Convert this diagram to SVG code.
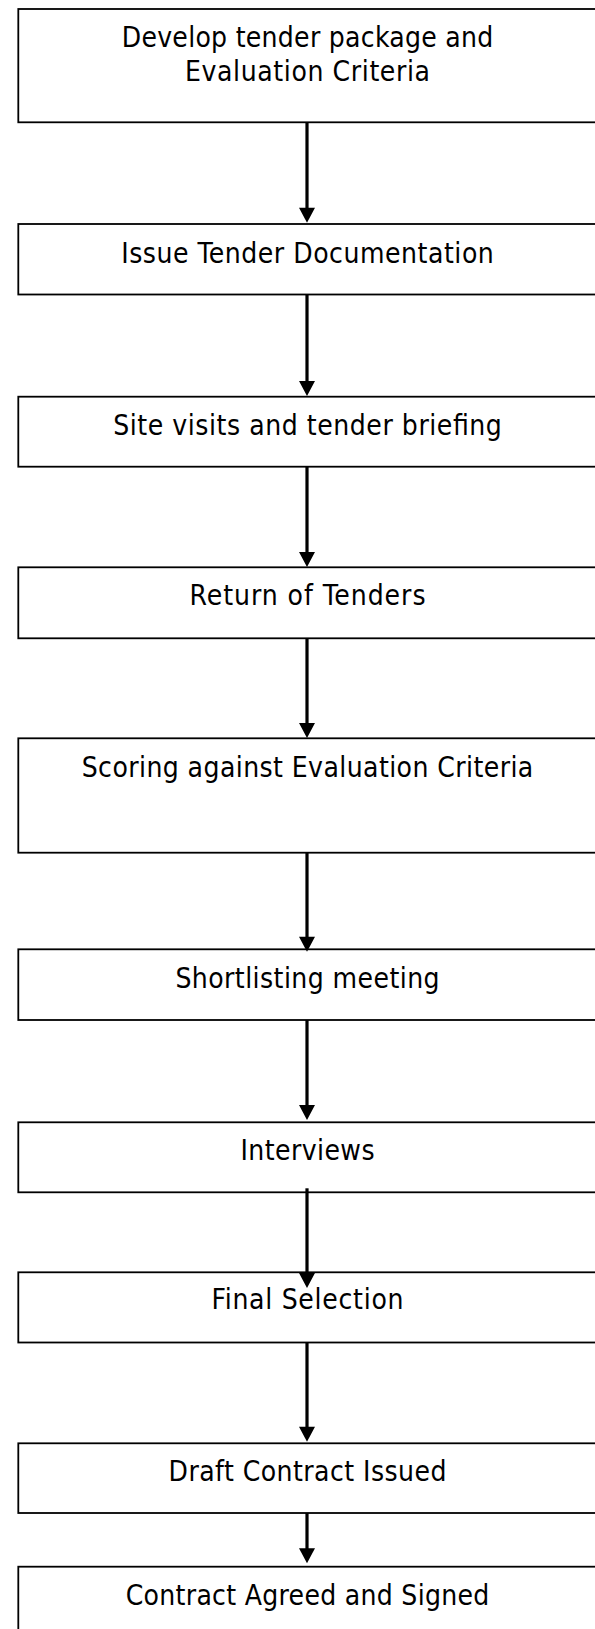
<svg xmlns="http://www.w3.org/2000/svg" width="595" height="1629" viewBox="0 0 595 1629">
<style>
.box{fill:#fff;stroke:#000;stroke-width:1.8}
.lbl{font-family:"DejaVu Sans Condensed","DejaVu Sans",sans-serif;font-stretch:condensed;font-size:28px;fill:#000;text-anchor:middle}
.conn{stroke:#000;stroke-width:3.2;fill:none;marker-end:url(#ah)}
</style>
<defs>
<marker id="ah" markerUnits="userSpaceOnUse" markerWidth="16" markerHeight="16" viewBox="0 0 15 16" refX="7" refY="8" orient="auto">
<path d="M0,0 L15,8 L0,16 z" fill="#000"/>
</marker>
</defs>
<rect width="595" height="1629" fill="#fff"/>
<g id="n1"><rect class="box" x="18.3" y="9" width="580" height="113.3"/>
<text class="lbl" x="307.5" y="46.7" textLength="371.6">Develop tender package and</text>
<text class="lbl" x="307.5" y="80.7" textLength="245">Evaluation Criteria</text></g>
<g id="n2"><rect class="box" x="18.3" y="224" width="580" height="70.5"/>
<text class="lbl" x="307.5" y="263.3" textLength="372.6">Issue Tender Documentation</text></g>
<g id="n3"><rect class="box" x="18.3" y="396.7" width="580" height="70"/>
<text class="lbl" x="307.5" y="435" textLength="388.7">Site visits and tender briefing</text></g>
<g id="n4"><rect class="box" x="18.3" y="567.3" width="580" height="71"/>
<text class="lbl" x="307.5" y="605" textLength="236">Return of Tenders</text></g>
<g id="n5"><rect class="box" x="18.3" y="738.3" width="580" height="114.4"/>
<text class="lbl" x="307.5" y="776.7" textLength="451.6">Scoring against Evaluation Criteria</text></g>
<g id="n6"><rect class="box" x="18.3" y="949.3" width="580" height="70.7"/>
<text class="lbl" x="307.5" y="988.3" textLength="264.2">Shortlisting meeting</text></g>
<g id="n7"><rect class="box" x="18.3" y="1122.3" width="580" height="70"/>
<text class="lbl" x="307.5" y="1160" textLength="134">Interviews</text></g>
<g id="n8"><rect class="box" x="18.3" y="1272.3" width="580" height="70.2"/>
<text class="lbl" x="307.5" y="1309" textLength="192">Final Selection</text></g>
<g id="n9"><rect class="box" x="18.3" y="1443.3" width="580" height="69.7"/>
<text class="lbl" x="307.5" y="1481" textLength="277.8">Draft Contract Issued</text></g>
<g id="n10"><rect class="box" x="18.3" y="1566.7" width="580" height="80"/>
<text class="lbl" x="307.5" y="1605" textLength="363.6">Contract Agreed and Signed</text></g>
<g id="connectors">
<line class="conn" x1="307" y1="122.3" x2="307" y2="214.7"/>
<line class="conn" x1="307" y1="294.5" x2="307" y2="388"/>
<line class="conn" x1="307" y1="466.7" x2="307" y2="559"/>
<line class="conn" x1="307" y1="638.3" x2="307" y2="730"/>
<line class="conn" x1="307" y1="852.7" x2="307" y2="943.7"/>
<line class="conn" x1="307" y1="1020" x2="307" y2="1112"/>
<line class="conn" x1="307" y1="1188.3" x2="307" y2="1280"/>
<line class="conn" x1="307" y1="1342.5" x2="307" y2="1433.7"/>
<line class="conn" x1="307" y1="1513" x2="307" y2="1555.3"/>
</g>
</svg>
